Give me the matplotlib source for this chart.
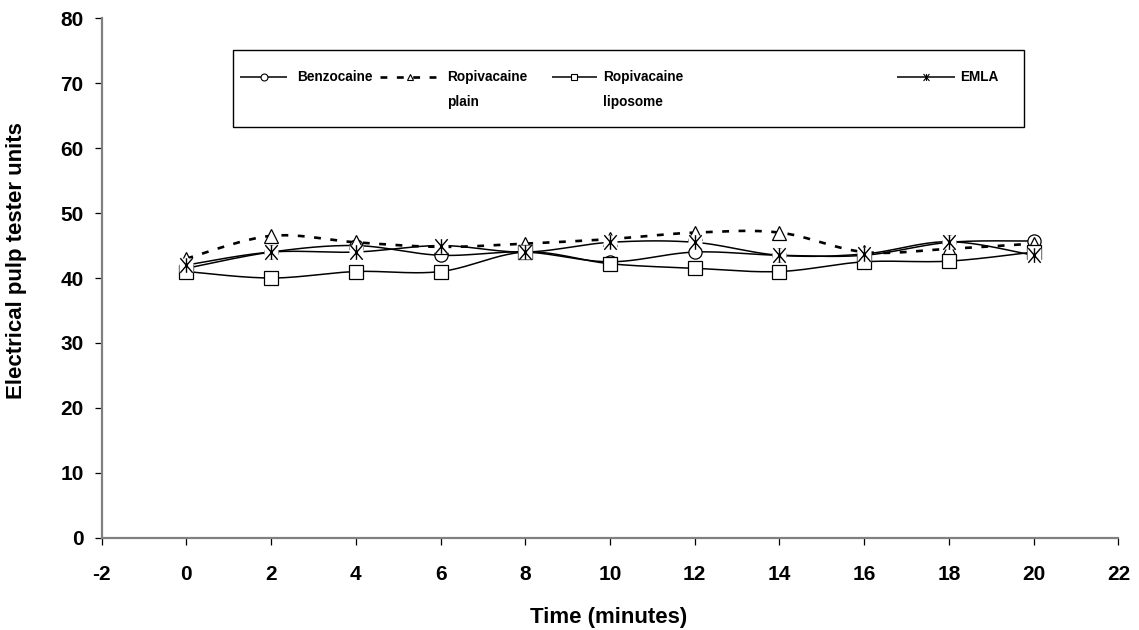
import numpy as np
import matplotlib
matplotlib.use("Agg")
import matplotlib.pyplot as plt
from matplotlib.path import Path
from matplotlib.lines import Line2D

plt.rcParams['font.family'] = ['Liberation Sans', 'DejaVu Sans']
plt.rcParams['font.weight'] = 'bold'
plt.rcParams['axes.unicode_minus'] = False

# values
time = [0, 2, 4, 6, 8, 10, 12, 14, 16, 18, 20]
benzocaine = [41.5, 44, 45, 43.5, 44, 42.5, 44, 43.5, 43.5, 45.5, 45.7]
ropi_plain = [43, 46.5, 45.5, 44.8, 45.3, 46, 47, 47, 44, 44.5, 45.3]
ropi_lipo = [41, 40, 41, 41, 44, 42.2, 41.5, 41, 42.5, 42.6, 44]
emla = [42, 44, 44, 45, 44, 45.5, 45.5, 43.5, 43.7, 45.6, 43.5]

x_ticks = list(range(-2, 23, 2))
y_ticks = list(range(0, 81, 10))


def smooth(x, y, n=25):
    # excel-like smoothed line (bezier through points)
    p = np.column_stack([x, y]).astype(float)
    pp = np.vstack([p[0], p, p[-1]])
    t = np.linspace(0, 1, n)[:, None]
    segs = []
    for i in range(len(p) - 1):
        p0 = pp[i + 1]
        p3 = pp[i + 2]
        c1 = p0 + (pp[i + 2] - pp[i]) / 6
        c2 = p3 - (pp[i + 3] - pp[i + 1]) / 6
        b = (1 - t) ** 3 * p0 + 3 * (1 - t) ** 2 * t * c1 + 3 * (1 - t) * t ** 2 * c2 + t ** 3 * p3
        segs.append(b if i == 0 else b[1:])
    s = np.vstack(segs)
    return s[:, 0], s[:, 1]


star = Path([(0, -1), (0, 1), (-0.85, -1), (0.85, 1), (-0.85, 1), (0.85, -1)],
            [Path.MOVETO, Path.LINETO] * 3)

fig = plt.figure(figsize=(11.39, 6.3), dpi=100)
ax = fig.add_axes([0.0893, 0.1465, 0.8926, 0.8244])

solid = dict(color='black', lw=1.1, solid_capstyle='butt')
dashed = dict(color='black', lw=1.9, linestyle=(0, (2.6, 3.6)))

ax.plot(*smooth(time, benzocaine), zorder=2, **solid)
ax.plot(*smooth(time, ropi_plain), zorder=2, **dashed)
ax.plot(*smooth(time, ropi_lipo), zorder=2, **solid)
ax.plot(*smooth(time, emla), zorder=2, **solid)

mk = dict(ls='none', mfc='white', mec='black', mew=0.9, ms=9.5, clip_on=False)
ax.plot(time, benzocaine, marker='o', zorder=3, **mk)
ax.plot(time, ropi_plain, marker='^', zorder=4, **mk)
ax.plot(time, ropi_lipo, marker='s', zorder=5, **mk)
ax.plot(time, emla, ls='none', marker='s', ms=10, mfc='white', mec='none', zorder=6, clip_on=False)
ax.plot(time, emla, ls='none', marker=star, ms=10.5, mec='black', mew=1.0, zorder=7, clip_on=False)

ax.set_xlim(-2, 22)
ax.set_ylim(0, 80)
ax.set_xticks(x_ticks)
ax.set_yticks(y_ticks)
ax.tick_params(axis='x', direction='out', length=5, width=0.9, pad=15, labelsize=15)
ax.tick_params(axis='y', direction='out', length=5, width=0.9, pad=8, labelsize=15)
for s in ['top', 'right']:
    ax.spines[s].set_visible(False)
for s in ['left', 'bottom']:
    ax.spines[s].set_color('#808080')
    ax.spines[s].set_linewidth(1.6)

ax.set_xlabel('Time (minutes)', fontsize=16, fontweight='bold')
ax.xaxis.set_label_coords(0.4985, -0.1334)
ax.set_ylabel('Electrical pulp tester units', fontsize=16, fontweight='bold')
ax.yaxis.set_label_coords(-0.0735, 0.534)

# legend drawn by hand so two-line labels sit like the original
box = plt.Rectangle((0.129, 0.791), 0.778, 0.148, transform=ax.transAxes,
                    fill=False, ec='black', lw=1.0, clip_on=False, zorder=8)
ax.add_patch(box)
ly1, ly2 = 0.8866, 0.8389
entries = [
    (0.136, 0.1823, 'o', solid, ['Benzocaine'], 0.192),
    (0.274, 0.333, '^', dashed, ['Ropivacaine', 'plain'], 0.3397),
    (0.443, 0.487, 's', solid, ['Ropivacaine', 'liposome'], 0.4932),
    (0.782, 0.839, star, solid, ['EMLA'], 0.8443),
]
for x0, x1, m, st, lines, tx in entries:
    ln = Line2D([x0, x1], [ly1, ly1], transform=ax.transAxes, clip_on=False, zorder=9, **st)
    ax.add_line(ln)
    xm = (x0 + x1) / 2
    ax.add_line(Line2D([xm], [ly1], transform=ax.transAxes, marker=m, ms=5, mfc='white',
                       mec='black', mew=0.8, ls='none', clip_on=False, zorder=10))
    for k, txt in enumerate(lines):
        ax.text(tx, ly1 if k == 0 else ly2, txt, transform=ax.transAxes, fontsize=9.8,
                fontweight='bold', va='center', ha='left', zorder=10)

fig.savefig('out.png', dpi=100)
